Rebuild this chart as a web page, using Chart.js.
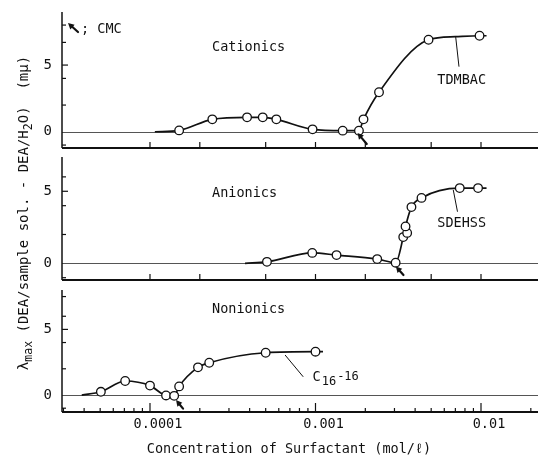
<!DOCTYPE html>
<html><head><meta charset="utf-8">
<script src="https://cdn.jsdelivr.net/npm/chart.js@4"></script>
<style>
html,body{margin:0;padding:0;background:#fff;}
#wrap{position:relative;width:538px;height:456px;background:#fff;}
canvas{position:absolute;left:0;top:0;}
</style></head><body>
<div id="wrap">
<canvas id="c1" width="538" height="456"></canvas>
<canvas id="c2" width="538" height="456"></canvas>
<canvas id="c3" width="538" height="456"></canvas>
</div>
<script>
const FONT = '"DejaVu Sans Mono", "Liberation Mono", monospace';
const INK = '#111';

// ---- data (concentration in mol/L, shift of lambda max in m\u03bc) ----
const cationicConc  = [1.5e-4, 2.38e-4, 3.86e-4, 4.8e-4, 5.8e-4, 9.6e-4, 1.46e-3, 1.83e-3, 1.95e-3, 2.42e-3, 4.82e-3, 9.8e-3];
const cationicShift = [0.10, 0.93, 1.08, 1.08, 0.93, 0.18, 0.08, 0.08, 0.93, 2.96, 6.90, 7.20];
const cationicCurveConc  = [1.07e-4, 1.5e-4, 2.38e-4, 3.86e-4, 4.8e-4, 5.8e-4, 9.6e-4, 1.46e-3, 1.83e-3, 1.95e-3, 2.42e-3, 4.82e-3, 7.0e-3, 9.8e-3, 1.08e-2];
const cationicCurveShift = [0.00, 0.10, 0.93, 1.08, 1.08, 0.93, 0.18, 0.08, 0.08, 0.93, 2.96, 6.90, 7.13, 7.20, 7.20];

const anionicConc  = [5.09e-4, 9.56e-4, 1.34e-3, 2.36e-3, 3.05e-3, 3.39e-3, 3.58e-3, 3.50e-3, 3.80e-3, 4.37e-3, 7.44e-3, 9.6e-3];
const anionicShift = [0.10, 0.72, 0.57, 0.29, 0.04, 1.82, 2.11, 2.56, 3.90, 4.54, 5.22, 5.22];
const anionicCurveConc  = [3.75e-4, 5.09e-4, 9.56e-4, 1.34e-3, 2.36e-3, 3.05e-3, 3.39e-3, 3.50e-3, 3.80e-3, 4.37e-3, 7.44e-3, 9.6e-3, 1.08e-2];
const anionicCurveShift = [0.00, 0.10, 0.72, 0.57, 0.29, 0.04, 1.82, 2.56, 3.90, 4.54, 5.22, 5.22, 5.22];

const nonionicConc  = [5.05e-5, 7.08e-5, 1.0e-4, 1.25e-4, 1.40e-4, 1.5e-4, 1.95e-4, 2.28e-4, 5.0e-4, 1.0e-3];
const nonionicShift = [0.25, 1.07, 0.72, -0.03, -0.06, 0.66, 2.11, 2.46, 3.22, 3.30];
const nonionicCurveConc  = [3.87e-5, 5.05e-5, 7.08e-5, 1.0e-4, 1.25e-4, 1.40e-4, 1.5e-4, 1.95e-4, 2.28e-4, 5.0e-4, 1.0e-3, 1.11e-3];
const nonionicCurveShift = [0.00, 0.25, 1.07, 0.72, -0.03, -0.06, 0.66, 2.11, 2.46, 3.22, 3.30, 3.30];

// ---- tick labels ----
const xLabelValues = [1e-4, 1e-3, 1e-2];
const xLabelTexts  = ['0.0001', '0.001', '0.01'];
const yLabelValues = [0, 5];
const xTitle = 'Concentration of Surfactant (mol/\u2113)';
const yTitleParts = [['\u03bb', false], ['max', true], [' (DEA/sample sol. - DEA/H', false], ['2', true], ['O)  (m\u03bc)', false]];

const XMIN = 2.94e-5, XMAX = 0.0221;

function pts(xs, ys) { return xs.map((x, i) => ({x: x, y: ys[i]})); }

function f(size) { return size + 'px ' + FONT; }

function drawArrow(ctx, tip, tail) {
  const ang = Math.atan2(tip[1] - tail[1], tip[0] - tail[0]);
  const hl = 6, hw = 3.2;
  const bx = tip[0] - hl * Math.cos(ang), by = tip[1] - hl * Math.sin(ang);
  ctx.strokeStyle = INK; ctx.fillStyle = INK; ctx.lineWidth = 2.2; ctx.lineCap = 'round';
  ctx.beginPath(); ctx.moveTo(tail[0], tail[1]); ctx.lineTo(bx, by); ctx.stroke();
  ctx.beginPath();
  ctx.moveTo(tip[0], tip[1]);
  ctx.lineTo(bx + hw * Math.sin(ang), by - hw * Math.cos(ang));
  ctx.lineTo(bx - hw * Math.sin(ang), by + hw * Math.cos(ang));
  ctx.closePath(); ctx.fill();
}

function decor(cfg) {
  return {
    id: 'decor' + cfg.id,
    beforeDatasetsDraw(chart) {
      const {ctx, chartArea: a, scales: {x, y}} = chart;
      ctx.save();
      // zero reference line
      const y0 = Math.round(y.getPixelForValue(0)) + 0.5;
      ctx.strokeStyle = '#555'; ctx.lineWidth = 1;
      ctx.beginPath(); ctx.moveTo(a.left, y0); ctx.lineTo(a.right, y0); ctx.stroke();
      // axes
      ctx.strokeStyle = INK; ctx.lineWidth = 1.5;
      ctx.beginPath(); ctx.moveTo(a.left, a.top); ctx.lineTo(a.left, a.bottom); ctx.stroke();
      ctx.lineWidth = 2;
      ctx.beginPath(); ctx.moveTo(a.left, a.bottom); ctx.lineTo(a.right, a.bottom); ctx.stroke();
      // inward x tick marks
      ctx.lineWidth = 1.2;
      cfg.xMarks.forEach(v => {
        const px = x.getPixelForValue(v);
        const isDec = Math.abs(Math.log10(v) - Math.round(Math.log10(v))) < 1e-6;
        const len = cfg.dense ? (isDec ? 9 : 4) : 6;
        ctx.beginPath(); ctx.moveTo(px, a.bottom); ctx.lineTo(px, a.bottom - len); ctx.stroke();
      });
      // inward y tick marks
      cfg.yMarks.forEach(v => {
        if (v < y.min || v > y.max) return;
        const py = y.getPixelForValue(v);
        const len = (v === 0 || v === 5) ? 6 : 4;
        ctx.beginPath(); ctx.moveTo(a.left, py); ctx.lineTo(a.left + len, py); ctx.stroke();
      });
      ctx.restore();
    },
    afterDatasetsDraw(chart) {
      const {ctx, chartArea: a, scales: {x, y}} = chart;
      const P = (vx, vy) => [x.getPixelForValue(vx), y.getPixelForValue(vy)];
      ctx.save();
      ctx.fillStyle = INK; ctx.strokeStyle = INK;
      ctx.font = f(13.5); ctx.textBaseline = 'middle';
      // panel name
      let p = P(cfg.name.x, cfg.name.y);
      ctx.textAlign = 'left'; ctx.fillText(cfg.name.text, p[0], p[1]);
      // leader line
      const l1 = P(cfg.leader[0], cfg.leader[1]), l2 = P(cfg.leader[2], cfg.leader[3]);
      ctx.lineWidth = 1; ctx.beginPath(); ctx.moveTo(l1[0], l1[1]); ctx.lineTo(l2[0], l2[1]); ctx.stroke();
      // compound label
      p = P(cfg.compound.x, cfg.compound.y);
      if (cfg.compound.sub) {
        ctx.textAlign = 'left';
        ctx.font = f(13.5); ctx.fillText('C', p[0], p[1]);
        const w = ctx.measureText('C').width;
        ctx.font = f(12); ctx.fillText('16', p[0] + w + 1, p[1] + 5);
        const w2 = ctx.measureText('16').width;
        ctx.fillText('-16', p[0] + w + w2 + 2, p[1]);
      } else {
        ctx.textAlign = 'center'; ctx.fillText(cfg.compound.text, p[0], p[1]);
      }
      // CMC arrow
      drawArrow(ctx, P(cfg.cmc[0], cfg.cmc[1]), P(cfg.cmc[2], cfg.cmc[3]));
      // legend for CMC arrow
      if (cfg.legend) {
        drawArrow(ctx, [a.left + 6, a.top + 11], [a.left + 16, a.top + 20]);
        ctx.font = f(13.5); ctx.textAlign = 'left'; ctx.fillStyle = INK;
        ctx.fillText('; CMC', a.left + 19, a.top + 17);
      }
      ctx.restore();
    },
    afterDraw(chart) {
      if (!cfg.titles) return;
      const {ctx, chartArea: a} = chart;
      ctx.save();
      ctx.fillStyle = INK; ctx.textBaseline = 'middle';
      // x title
      ctx.font = f(13.5); ctx.textAlign = 'center';
      ctx.fillText(xTitle, (a.left + a.right) / 2 - 11, 449);
      // y title (rotated, with subscripts)
      ctx.translate(24, 213); ctx.rotate(-Math.PI / 2);
      ctx.textAlign = 'left';
      let total = 0;
      yTitleParts.forEach(([t, sub]) => { ctx.font = f(sub ? 11.5 : 14); total += ctx.measureText(t).width; });
      let cx = -total / 2;
      yTitleParts.forEach(([t, sub]) => {
        ctx.font = f(sub ? 11.5 : 14);
        ctx.fillText(t, cx, sub ? 5 : 0);
        cx += ctx.measureText(t).width;
      });
      ctx.restore();
    }
  };
}

const sparseMarks = [1e-4, 2e-4, 5e-4, 1e-3, 2e-3, 5e-3, 1e-2];
const denseMarks = [];
for (let e = -5; e <= -2; e++) for (let m = 1; m <= 9; m++) {
  const v = m * Math.pow(10, e);
  if (v >= 3e-5 && v <= 0.02) denseMarks.push(v);
}

function makePanel(cfg) {
  return new Chart(document.getElementById(cfg.id), {
    type: 'scatter',
    data: { datasets: [
      { data: cfg.curve, showLine: true, pointRadius: 0, borderColor: INK, borderWidth: 1.7,
        cubicInterpolationMode: 'monotone', fill: false, order: 2 },
      { data: cfg.points, showLine: false, pointRadius: 4.3, pointBackgroundColor: '#fff',
        pointBorderColor: INK, pointBorderWidth: 1.3, order: 1 }
    ]},
    options: {
      responsive: false, animation: false, devicePixelRatio: 1,
      layout: { autoPadding: false, padding: { left: 0, right: 0, top: cfg.top, bottom: cfg.padBottom } },
      plugins: { legend: { display: false }, tooltip: { enabled: false } },
      scales: {
        x: {
          type: 'logarithmic', min: XMIN, max: XMAX,
          grid: { display: false, drawTicks: false }, border: { display: false },
          afterBuildTicks: s => { s.ticks = xLabelValues.map(v => ({value: v})); },
          afterFit: s => { s.height = cfg.xHeight; s.paddingLeft = 0; s.paddingRight = 0; },
          ticks: { display: cfg.titles, autoSkip: false, maxRotation: 0, minRotation: 0,
                   labelOffset: 8, padding: 4, color: INK, font: { family: FONT, size: 13.5 },
                   callback: (v, i) => xLabelTexts[i] }
        },
        y: {
          min: cfg.ymin, max: cfg.ymax,
          grid: { display: false, drawTicks: false }, border: { display: false },
          afterBuildTicks: s => { s.ticks = yLabelValues.map(v => ({value: v})); },
          afterFit: s => { s.width = 62; s.paddingTop = 0; s.paddingBottom = 0; },
          ticks: { padding: 10, color: INK, font: { family: FONT, size: 14 }, callback: v => String(v) }
        }
      }
    },
    plugins: [decor(cfg)]
  });
}

makePanel({
  id: 'c1', top: 12, padBottom: 308, xHeight: 0, ymin: -1.22, ymax: 8.98, titles: false, legend: true,
  curve: pts(cationicCurveConc, cationicCurveShift), points: pts(cationicConc, cationicShift),
  xMarks: sparseMarks, dense: false, yMarks: [-1, 2, 4, 5, 6.7, 8],
  name: { text: 'Cationics', x: 2.37e-4, y: 6.35 },
  compound: { text: 'TDMBAC', x: 7.64e-3, y: 3.83 },
  leader: [7.36e-3, 4.88, 7.03e-3, 7.13],
  cmc: [1.795e-3, -0.1, 2.04e-3, -0.92]
});
makePanel({
  id: 'c2', top: 157, padBottom: 176, xHeight: 0, ymin: -1.16, ymax: 7.38, titles: false, legend: false,
  curve: pts(anionicCurveConc, anionicCurveShift), points: pts(anionicConc, anionicShift),
  xMarks: sparseMarks, dense: false, yMarks: [-1, 2, 4, 5, 6],
  name: { text: 'Anionics', x: 2.37e-4, y: 4.86 },
  compound: { text: 'SDEHSS', x: 7.64e-3, y: 2.78 },
  leader: [7.21e-3, 3.58, 6.8e-3, 5.09],
  cmc: [3.06e-3, -0.22, 3.4e-3, -0.81]
});
makePanel({
  id: 'c3', top: 290, padBottom: 0, xHeight: 44, ymin: -1.29, ymax: 8.0, titles: true, legend: false,
  curve: pts(nonionicCurveConc, nonionicCurveShift), points: pts(nonionicConc, nonionicShift),
  xMarks: denseMarks, dense: true, yMarks: [-1, 2, 4, 5, 6, 7.5],
  name: { text: 'Nonionics', x: 2.37e-4, y: 6.53 },
  compound: { sub: true, x: 9.6e-4, y: 1.37 },
  leader: [8.43e-4, 1.39, 6.55e-4, 3.05],
  cmc: [1.437e-4, -0.38, 1.584e-4, -1.03]
});
</script>
</body></html>
